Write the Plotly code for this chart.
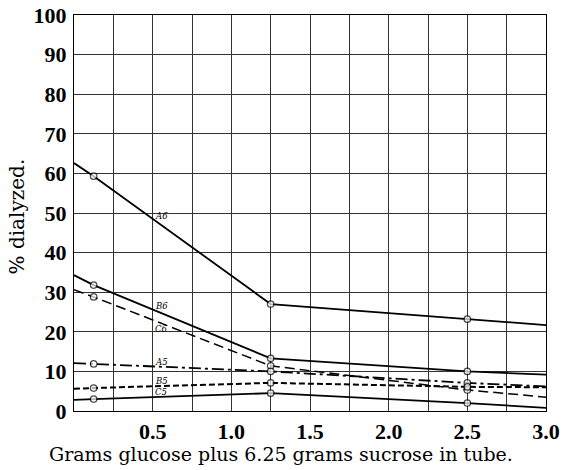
import plotly.graph_objects as go

x_line = [0.0, 0.125, 1.25, 2.5, 3.0]
A6 = [62.6, 59.3, 27.0, 23.2, 21.7]
B6 = [34.3, 31.8, 13.3, 10.0, 9.2]
C6 = [30.6, 28.8, 11.4, 5.3, 3.5]
A5 = [12.1, 11.9, 10.0, 7.1, 6.2]
B5 = [5.6, 5.8, 7.1, 6.1, 6.0]
C5 = [2.8, 3.0, 4.5, 2.0, 0.8]

series_names = ["A6", "B6", "C6", "A5", "B5", "C5"]
series_vals = [A6, B6, C6, A5, B5, C5]
series_dash = ["solid", "solid", "10px,5px", "12px,4px,3px,4px", "6px,3px", "solid"]
series_width = [1.8, 1.8, 1.5, 1.8, 2.0, 1.8]

label_x = 0.50
label_y = [49.3, 26.5, 20.6, 12.4, 7.7, 4.9]

x_ticks = [0.5, 1.0, 1.5, 2.0, 2.5, 3.0]
x_ticktext = ["0.5", "1.0", "1.5", "2.0", "2.5", "3.0"]
y_ticks = list(range(0, 101, 10))

serif = "DejaVu Serif"
tick_serif = "Liberation Serif"

fig = go.Figure()
for name, vals, dash, w in zip(series_names, series_vals, series_dash, series_width):
    fig.add_trace(go.Scatter(
        x=x_line, y=vals, mode="lines+markers", name=name,
        line=dict(color="black", width=w, dash=dash),
        marker=dict(symbol="circle", size=[0, 6.5, 6.5, 6.5, 0], color="white",
                    line=dict(color="black", width=[0, 1.2, 1.2, 1.2, 0])),
        showlegend=False,
    ))

for name, ly in zip(series_names, label_y):
    fig.add_annotation(x=label_x, y=ly, text=f"<i>{name}</i>", showarrow=False,
                       xanchor="left", yanchor="middle",
                       font=dict(family=serif, size=8.5, color="black"))

# axis titles as paper-positioned text
fig.add_annotation(xref="paper", yref="paper", x=0.4375, y=-0.108,
                   text="Grams glucose plus 6.25 grams sucrose in tube.",
                   showarrow=False, xanchor="center", yanchor="middle",
                   font=dict(family=serif, size=19, color="black"))
fig.add_annotation(xref="paper", yref="paper", x=-0.121, y=0.491,
                   text="% dialyzed.", textangle=-90,
                   showarrow=False, xanchor="center", yanchor="middle",
                   font=dict(family=serif, size=20, color="black"))

fig.update_layout(
    width=568, height=470,
    margin=dict(l=74, r=22, t=15, b=59),
    paper_bgcolor="white", plot_bgcolor="white",
    font=dict(family=serif, color="black"),
    xaxis=dict(
        range=[0, 3.0], tickvals=x_ticks, ticktext=x_ticktext,
        showgrid=True, gridcolor="#333333", gridwidth=1,
        minor=dict(dtick=0.25, tick0=0, showgrid=True, gridcolor="#333333", gridwidth=1),
        showline=True, linecolor="black", linewidth=1.2, mirror=True,
        ticks="", zeroline=False, automargin=False,
        tickfont=dict(family=tick_serif, size=22, color="black", weight="bold"),
    ),
    yaxis=dict(
        range=[0, 100], tickvals=y_ticks,
        showgrid=True, gridcolor="#333333", gridwidth=1,
        showline=True, linecolor="black", linewidth=1.2, mirror=True,
        ticks="", zeroline=False, automargin=False,
        ticklabelstandoff=2,
        tickfont=dict(family=tick_serif, size=22, color="black", weight="bold"),
    ),
)

fig.write_html("out.html")
